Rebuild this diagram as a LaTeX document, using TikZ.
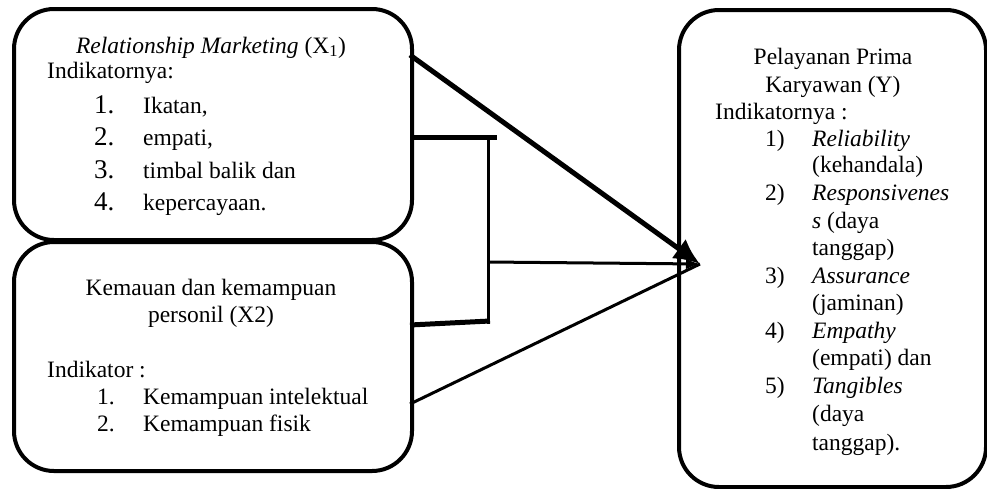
\documentclass[tikz,border=0pt]{standalone}
\usepackage{fontspec}
\setmainfont{Liberation Serif}
\usetikzlibrary{arrows.meta}
\begin{document}
\begin{tikzpicture}[x=1pt,y=-1pt,
  box/.style={draw,line width=4pt,rounded corners=40pt,inner sep=0pt,anchor=north west},
  txt/.style={inner sep=0pt,font=\fontsize{23.5}{27}\selectfont},
  big/.style={inner sep=0pt,font=\fontsize{27}{30}\selectfont},
  thickline/.style={line width=5pt},
  thinline/.style={line width=3pt},
]
\useasboundingbox (0,0) rectangle (987,488);
% boxes
\node[box,minimum width=398pt,minimum height=231pt] (x1) at (12,7) {};
\node[box,minimum width=398pt,minimum height=229pt] (x2) at (12,240) {};
\node[box,minimum width=307pt,minimum height=477pt] (y) at (677,8) {};
% box 1 text
\node[txt,anchor=base] (r1) at (211,53) {\textit{Relationship Marketing} (X\textsubscript{1})};
\node[txt,anchor=base west] (r2) at (47,78) {Indikatornya:};
\node[big,anchor=base west] (n1) at (94,113) {1.};
\node[txt,anchor=base west] (i1) at (143,113) {Ikatan,};
\node[big,anchor=base west] (n2) at (94,145) {2.};
\node[txt,anchor=base west] (i2) at (143,145) {empati,};
\node[big,anchor=base west] (n3) at (94,178) {3.};
\node[txt,anchor=base west] (i3) at (143,178) {timbal balik dan};
\node[big,anchor=base west] (n4) at (94,210) {4.};
\node[txt,anchor=base west] (i4) at (143,210) {kepercayaan.};
% box 2 text
\node[txt,anchor=base] (k1) at (211,295) {Kemauan dan kemampuan};
\node[txt,anchor=base] (k2) at (211,322) {personil (X2)};
\node[txt,anchor=base west] (k3) at (47,377) {Indikator :};
\node[txt,anchor=base west] (m1) at (97,404) {1.};
\node[txt,anchor=base west] (j1) at (143,404) {Kemampuan intelektual};
\node[txt,anchor=base west] (m2) at (97,431) {2.};
\node[txt,anchor=base west] (j2) at (143,431) {Kemampuan fisik};
% box Y text
\node[txt,anchor=base] (p1) at (833,64) {Pelayanan Prima};
\node[txt,anchor=base] (p2) at (833,92) {Karyawan (Y)};
\node[txt,anchor=base west] (p3) at (715,119) {Indikatornya :};
\node[txt,anchor=base west] (q1) at (765,146) {1)};
\node[txt,anchor=base west] (a1) at (812,146) {\textit{Reliability}};
\node[txt,anchor=base west] (a1b) at (812,172) {(kehandala)};
\node[txt,anchor=base west] (q2) at (765,200) {2)};
\node[txt,anchor=base west] (a2) at (812,200) {\textit{Responsivenes}};
\node[txt,anchor=base west] (a2b) at (812,228) {\textit{s} (daya};
\node[txt,anchor=base west] (a2c) at (812,255) {tanggap)};
\node[txt,anchor=base west] (q3) at (765,283) {3)};
\node[txt,anchor=base west] (a3) at (812,283) {\textit{Assurance}};
\node[txt,anchor=base west] (a3b) at (812,310) {(jaminan)};
\node[txt,anchor=base west] (q4) at (765,338) {4)};
\node[txt,anchor=base west] (a4) at (812,338) {\textit{Empathy}};
\node[txt,anchor=base west] (a4b) at (812,365) {(empati) dan};
\node[txt,anchor=base west] (q5) at (765,393) {5)};
\node[txt,anchor=base west] (a5) at (812,393) {\textit{Tangibles}};
\node[txt,anchor=base west] (a5b) at (812,421) {(daya};
\node[txt,anchor=base west] (a5c) at (812,450) {tanggap).};
% connector points
\coordinate (tip) at (700,264);
\coordinate (s1) at (410,55);
\coordinate (b1) at (410,137);
\coordinate (b2) at (497,137);
\coordinate (b3) at (488,135);
\coordinate (b4) at (488,324);
\coordinate (b5) at (490,321);
\coordinate (b6) at (410,325);
\coordinate (m) at (488,262);
\coordinate (s2) at (410,404);
% connectors
\draw[thickline] (b1) -- (b2);
\draw[thinline] (b3) -- (b4);
\draw[thickline] (b5) -- (b6);
\draw[thinline,-{Latex[length=14pt,width=11pt]}] (m) -- (tip);
\draw[thinline] (s2) -- (tip);
\draw[thickline,-{Latex[length=26pt,width=24pt]}] (s1) -- (tip);
\end{tikzpicture}
\end{document}
